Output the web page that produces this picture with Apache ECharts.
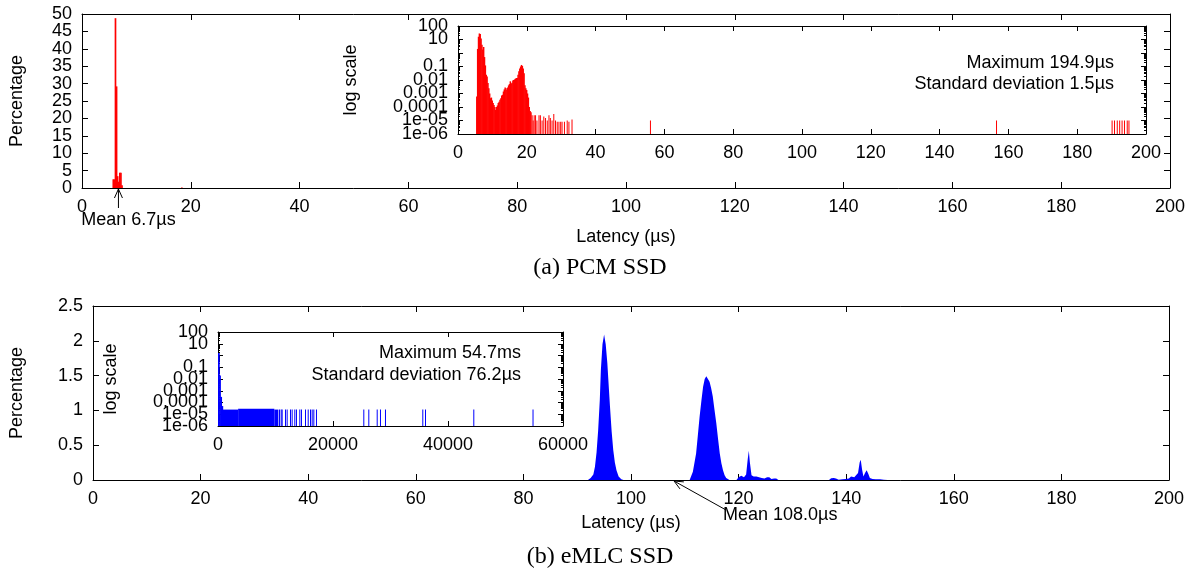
<!DOCTYPE html>
<html>
<head>
<meta charset="utf-8">
<script src="https://cdn.jsdelivr.net/npm/echarts/dist/echarts.min.js"></script>
<style>
html,body{margin:0;padding:0;background:#fff;}
#main{width:1191px;height:576px;}
</style>
</head>
<body>
<div id="main"></div>
<script>
// (a) PCM SSD, main histogram (latency us, percentage), 0.2us bins
let pcmLat = [5.6, 5.8, 6.0, 6.2, 6.4, 6.6, 6.8, 7.0, 7.2, 18.2];
let pcmPct = [2.5, 2.5, 48.8, 29.2, 3.4, 1.8, 4.4, 4.4, 0.8, 0.15];

// (a) inset, log scale, 0.25us bins
let pcmLogLat = [5.25, 5.5, 5.75, 6.0, 6.25, 6.5, 6.75, 7.0, 7.25, 7.5, 7.75, 8.0, 8.25, 8.5, 8.75, 9.0,
  9.25, 9.5, 9.75, 10.0, 10.25, 10.5, 10.75, 11.0, 11.25, 11.5, 11.75, 12.0, 12.25, 12.5, 12.75, 13.0,
  13.25, 13.5, 13.75, 14.0, 14.25, 14.5, 14.75, 15.0, 15.25, 15.5, 15.75, 16.0, 16.25, 16.5, 16.75, 17.0,
  17.25, 17.5, 17.75, 18.0, 18.25, 18.5, 18.75, 19.0, 19.25, 19.5, 19.75, 20.0, 20.25, 20.5, 20.75, 21.0];
let pcmLogPct = [6e-4, 2.0, 16, 28, 26, 12, 4, 1.8, 2.8, 0.5, 0.12, 0.025, 0.018, 0.006, 0.0025, 0.001,
  4.5e-4, 5e-4, 3e-4, 2e-4, 1.4e-4, 1e-4, 6e-5, 1e-4, 1.3e-4, 2e-4, 2.5e-4, 3.5e-4, 4.5e-4, 7e-4, 8e-4, 0.0014,
  0.002, 0.0028, 0.0025, 0.0018, 0.0028, 0.004, 0.005, 0.008, 0.0056, 0.0063, 0.009, 0.01, 0.011, 0.0125, 0.014, 0.014,
  0.025, 0.045, 0.07, 0.1, 0.13, 0.11, 0.07, 0.032, 0.004, 0.0025, 0.0018, 0.001, 5e-4, 1e-4, 5e-5, 4e-5];

// (a) inset, single rare samples
let pcmTailLat = [21.4, 21.7, 22.0, 22.4, 22.8, 23.4, 23.8, 24.3, 24.8, 25.3, 25.8, 26.3, 26.7, 27.2, 27.7, 28.2,
  28.7, 29.2, 29.7, 30.1, 30.8, 31.6, 32.1, 33.0, 55.8, 156.4, 190.0, 190.7, 191.5, 192.2, 192.9, 193.6, 194.4, 194.9];
let pcmTailPct = [2.5e-5, 1e-5, 2.5e-5, 2.5e-5, 1e-5, 2.5e-5, 2.5e-5, 1e-5, 2e-5, 1.5e-5, 1e-5, 2.5e-5, 1.5e-5, 1e-5, 3e-5, 1e-5,
  8e-6, 8e-6, 8e-6, 8e-6, 8e-6, 1e-5, 8e-6, 1.2e-5, 1e-5, 1e-5, 1e-5, 1e-5, 1e-5, 1e-5, 1e-5, 1e-5, 1e-5, 1e-5];

// (b) eMLC SSD, main histogram
let emlcLat = [92.0, 92.5, 93.0, 93.3, 93.6, 93.9, 94.2, 94.4, 94.7, 95.0, 95.3, 95.6, 95.9, 96.1, 96.4, 96.7, 97.0, 97.3, 97.7, 98.2, 98.6,
  110.9, 111.5, 112.1, 112.4, 112.75, 113.1, 113.4, 113.7, 114.0, 114.3, 114.6, 114.9, 115.2, 115.5, 115.85, 116.2, 116.5, 116.8, 117.1, 117.4, 117.7, 118.3,
  119.6, 120.0, 120.5, 121.0, 121.4, 121.7, 121.9, 122.1, 122.4, 122.8, 123.3, 123.8, 124.3, 124.8, 125.3, 125.7, 126.1, 126.6, 127.0, 127.4,
  136.8, 137.2, 137.7, 138.1, 138.6, 139.3, 139.9, 140.5, 140.9, 141.2, 141.5, 141.8, 142.2, 142.5, 142.7, 142.95, 143.2, 143.5, 143.8, 144.1, 144.4, 144.9, 145.5, 146.3, 147.0, 147.7];
let emlcPct = [0, 0.03, 0.08, 0.19, 0.4, 0.72, 1.15, 1.58, 1.95, 2.09, 1.95, 1.68, 1.3, 1.05, 0.7, 0.43, 0.25, 0.14, 0.05, 0.01, 0,
  0, 0.12, 0.38, 0.62, 0.91, 1.15, 1.34, 1.45, 1.49, 1.48, 1.41, 1.32, 1.2, 1.02, 0.82, 0.58, 0.38, 0.24, 0.14, 0.07, 0.03, 0,
  0, 0.04, 0.06, 0.04, 0.08, 0.3, 0.42, 0.25, 0.07, 0.05, 0.05, 0.04, 0.03, 0.02, 0.04, 0.04, 0.015, 0.02, 0.02, 0,
  0, 0.025, 0.03, 0.02, 0.005, 0.01, 0.015, 0.02, 0.05, 0.07, 0.04, 0.03, 0.1, 0.25, 0.29, 0.15, 0.05, 0.1, 0.14, 0.09, 0.03, 0.015, 0.01, 0.01, 0.005, 0];

// (b) inset, log scale
let emlcHeadLat = [0, 200, 400, 600];
let emlcHeadPct = [1.6, 0.02, 3e-4, 5e-5];
let emlcBandFrom = [700, 3500, 9800];
let emlcBandTo = [3500, 9800, 10500];
let emlcBandPct = [2.5e-5, 3e-5, 2.5e-5];
let emlcTailLat = [10610, 10900, 11070, 11650, 11940, 12520, 12810, 13270, 13560, 14140, 14430, 15130, 15600,
  16000, 16290, 16580, 17040, 25270, 26140, 27600, 28170, 29040, 35530, 36000, 44400, 54700];
let emlcTailPct = [2.5e-5, 2.5e-5, 2.5e-5, 2.5e-5, 2.5e-5, 2.5e-5, 2.5e-5, 2.5e-5, 2.5e-5, 2.5e-5, 2.5e-5, 2.5e-5, 2.5e-5,
  2.5e-5, 2.5e-5, 2.5e-5, 2.5e-5, 2.5e-5, 2.5e-5, 2.5e-5, 2.5e-5, 2.5e-5, 2.5e-5, 2.5e-5, 2.5e-5, 2.5e-5];

// log axis tick labels, from 1e-06 (index 0) to 100; "1" is not printed in the original
let logLabels = ['1e-06', '1e-05', '0.0001', '0.001', '0.01', '0.1', '', '10', '100'];
let pcmMean = 6.7, emlcMean = 108.0;

let FONT = '"Liberation Sans", Arial, sans-serif';
let LOGMIN = 1e-6;

function zip(a, b) { return a.map((v, i) => [v, b[i]]); }

function binRect(binW, base) {
  return function (params, api) {
    let x = api.value(0), v = api.value(1);
    let top = api.coord([x, v]);
    let bot = api.coord([x + binW, base]);
    // neighbouring bins overlap a little so no seams show between them
    let w = binW > 0 ? bot[0] - top[0] + 0.6 : 1;
    return {
      type: 'rect',
      shape: {x: top[0], y: top[1], width: Math.max(w, 1), height: bot[1] - top[1]},
      style: api.style()
    };
  };
}

function bandRect(params, api) {
  let top = api.coord([api.value(0), api.value(2)]);
  let bot = api.coord([api.value(1), LOGMIN]);
  return {
    type: 'rect',
    shape: {x: top[0], y: top[1], width: bot[0] - top[0], height: bot[1] - top[1]},
    style: api.style()
  };
}

let tick6 = {show: true, inside: true, length: 6, lineStyle: {color: '#000'}};
let tick5 = {show: true, inside: true, length: 5, lineStyle: {color: '#000'}};
let noLabel = {show: false};
let nameStyle = {fontSize: 18, fontFamily: FONT, color: '#000'};

function label(extra) {
  return Object.assign({show: true, margin: 10, fontSize: 18, fontFamily: FONT, color: '#000'}, extra || {});
}

function xAx(grid, min, max, interval, opts) {
  let a = {
    type: 'value', gridIndex: grid, min: min, max: max, interval: interval,
    axisLine: {show: true, onZero: false, lineStyle: {color: '#000', width: 1}},
    axisTick: tick6,
    axisLabel: label({showMinLabel: true, showMaxLabel: true, formatter: v => String(v)}),
    splitLine: {show: false}
  };
  return Object.assign(a, opts || {});
}

function yAx(grid, opts) {
  let a = {
    type: 'value', gridIndex: grid,
    axisLine: {show: true, onZero: false, lineStyle: {color: '#000', width: 1}},
    axisTick: tick6,
    // end labels come from a separate axis, so neighbours are never dropped
    axisLabel: label({showMinLabel: false, showMaxLabel: false}),
    splitLine: {show: false}
  };
  return Object.assign(a, opts || {});
}

// axis that only prints the two end labels
function endAx(grid, min, max, fmt) {
  return {
    type: 'value', gridIndex: grid, min: min, max: max, interval: max - min, position: 'left',
    axisLine: {show: false, onZero: false}, axisTick: {show: false}, splitLine: {show: false},
    axisLabel: label({showMinLabel: true, showMaxLabel: true, formatter: fmt})
  };
}

let logOpts = {
  type: 'log', logBase: 10, min: LOGMIN, max: 100, splitNumber: 8,
  axisTick: tick5,
  minorTick: {show: true, splitNumber: 9, length: 2, lineStyle: {color: '#000'}},
  axisLabel: label({showMinLabel: false, showMaxLabel: false,
    formatter: v => logLabels[Math.round(Math.log10(v)) + 6]})
};
let logEnd = v => logLabels[v + 6];

let chart = echarts.init(document.getElementById('main'));
chart.setOption({
  animation: false,
  backgroundColor: '#fff',
  grid: [
    {left: 80, top: 14, width: 1090, height: 174},
    {left: 458, top: 26, width: 688, height: 108},
    {left: 90, top: 306, width: 1079, height: 174},
    {left: 218, top: 332, width: 345, height: 94}
  ],
  xAxis: [
    xAx(0, 0, 200, 20, {name: 'Latency (µs)', nameLocation: 'middle', nameGap: 40, nameTextStyle: nameStyle}),
    xAx(0, 0, 200, 20, {position: 'top', axisLabel: noLabel}),
    xAx(1, 0, 200, 20, {axisTick: tick5}),
    xAx(1, 0, 200, 20, {position: 'top', axisLabel: noLabel, axisTick: tick5}),
    xAx(2, 0, 200, 20, {name: 'Latency (µs)', nameLocation: 'middle', nameGap: 34, nameTextStyle: nameStyle}),
    xAx(2, 0, 200, 20, {position: 'top', axisLabel: noLabel}),
    xAx(3, 0, 60000, 20000, {axisTick: tick5}),
    xAx(3, 0, 60000, 20000, {position: 'top', axisLabel: noLabel, axisTick: tick5})
  ],
  yAxis: [
    yAx(0, {min: 0, max: 50, interval: 5, name: 'Percentage', nameLocation: 'middle', nameRotate: 90, nameGap: 56, nameTextStyle: nameStyle}),
    yAx(0, {min: 0, max: 50, interval: 5, position: 'right', axisLabel: noLabel}),
    yAx(1, Object.assign({}, logOpts, {name: 'log scale', nameLocation: 'middle', nameRotate: 90, nameGap: 98, nameTextStyle: nameStyle})),
    yAx(1, Object.assign({}, logOpts, {position: 'right', axisLabel: noLabel})),
    yAx(2, {min: 0, max: 2.5, interval: 0.5, name: 'Percentage', nameLocation: 'middle', nameRotate: 90, nameGap: 67, nameTextStyle: nameStyle}),
    yAx(2, {min: 0, max: 2.5, interval: 0.5, position: 'right', axisLabel: noLabel}),
    yAx(3, Object.assign({}, logOpts, {name: 'log scale', nameLocation: 'middle', nameRotate: 90, nameGap: 98, nameTextStyle: nameStyle})),
    yAx(3, Object.assign({}, logOpts, {position: 'right', axisLabel: noLabel})),
    endAx(0, 0, 50, v => String(v)),
    endAx(1, -6, 2, logEnd),
    endAx(2, 0, 2.5, v => String(v)),
    endAx(3, -6, 2, logEnd)
  ],
  series: [
    {type: 'custom', xAxisIndex: 0, yAxisIndex: 0, renderItem: binRect(0.2, 0),
      itemStyle: {color: '#ff0000'}, data: zip(pcmLat, pcmPct)},
    {type: 'custom', xAxisIndex: 2, yAxisIndex: 2, renderItem: binRect(0.25, LOGMIN),
      itemStyle: {color: '#ff0000'}, data: zip(pcmLogLat, pcmLogPct)},
    {type: 'custom', xAxisIndex: 2, yAxisIndex: 2, renderItem: binRect(0, LOGMIN),
      itemStyle: {color: '#ff0000'}, data: zip(pcmTailLat, pcmTailPct)},
    {type: 'line', xAxisIndex: 4, yAxisIndex: 4, symbol: 'none', showSymbol: false,
      lineStyle: {width: 0}, itemStyle: {color: '#0000ff'},
      areaStyle: {color: '#0000ff', opacity: 1}, data: zip(emlcLat, emlcPct)},
    {type: 'custom', xAxisIndex: 6, yAxisIndex: 6, renderItem: binRect(200, LOGMIN),
      itemStyle: {color: '#0000ff'}, data: zip(emlcHeadLat, emlcHeadPct)},
    {type: 'custom', xAxisIndex: 6, yAxisIndex: 6, renderItem: bandRect, encode: {x: [0, 1], y: 2},
      itemStyle: {color: '#0000ff'}, data: emlcBandFrom.map((v, i) => [v, emlcBandTo[i], emlcBandPct[i]])},
    {type: 'custom', xAxisIndex: 6, yAxisIndex: 6, renderItem: binRect(0, LOGMIN),
      itemStyle: {color: '#0000ff'}, data: zip(emlcTailLat, emlcTailPct)}
  ]
});

function txt(x, y, s, align, font) {
  return {type: 'text', x: x, y: y, z: 100, style: {text: s, font: font || ('18px ' + FONT), fill: '#000',
    align: align, verticalAlign: 'middle', textAlign: align, textVerticalAlign: 'middle'}};
}

function arrow(tail, tip) {
  let dx = tail[0] - tip[0], dy = tail[1] - tip[1], L = Math.sqrt(dx * dx + dy * dy);
  let ux = dx / L, uy = dy / L, h = 9, s = 4;
  let l = [tip[0] + ux * h - uy * s, tip[1] + uy * h + ux * s];
  let r = [tip[0] + ux * h + uy * s, tip[1] + uy * h - ux * s];
  return [
    {type: 'line', z: 100, shape: {x1: tail[0], y1: tail[1], x2: tip[0], y2: tip[1]}, style: {stroke: '#000', lineWidth: 1}},
    {type: 'polyline', z: 100, shape: {points: [l, tip, r]}, style: {stroke: '#000', lineWidth: 1, fill: null}}
  ];
}

let pa = chart.convertToPixel({xAxisIndex: 0, yAxisIndex: 0}, [pcmMean, 0]);
let pb = chart.convertToPixel({xAxisIndex: 4, yAxisIndex: 4}, [emlcMean, 0]);
let serif = '24px "Liberation Serif", "Times New Roman", serif';

chart.setOption({
  graphic: [].concat(
    arrow([pa[0], pa[1] + 20], [pa[0], pa[1] + 1]),
    [txt(pa[0] + 10, pa[1] + 32, 'Mean 6.7µs', 'center')],
    arrow([pb[0] + 52, pb[1] + 30], [pb[0], pb[1] + 1]),
    [txt(pb[0] + 49, pb[1] + 35, 'Mean 108.0µs', 'left')],
    [txt(1114, 63, 'Maximum 194.9µs', 'right'),
     txt(1114, 84, 'Standard deviation 1.5µs', 'right'),
     txt(521, 353, 'Maximum 54.7ms', 'right'),
     txt(521, 375, 'Standard deviation 76.2µs', 'right'),
     txt(600, 268, '(a) PCM SSD', 'center', serif),
     txt(600, 557, '(b) eMLC SSD', 'center', serif)]
  )
});
</script>
</body>
</html>
